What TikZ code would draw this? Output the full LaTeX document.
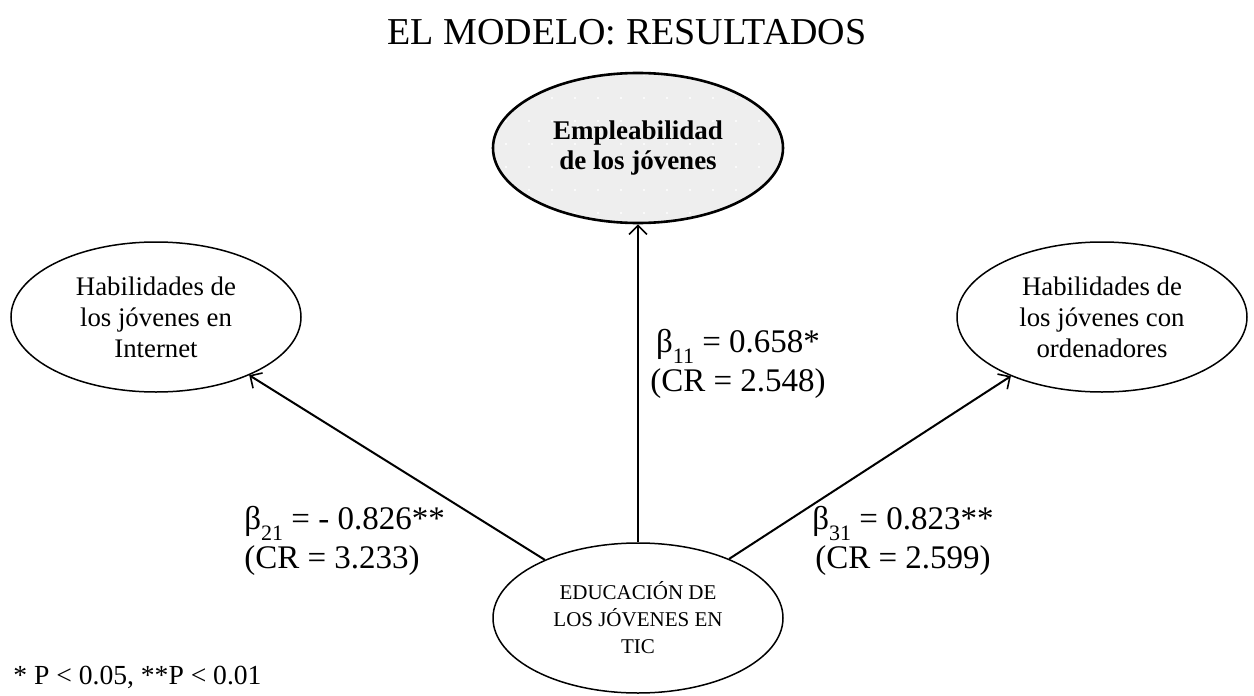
\documentclass[tikz,border=0pt]{standalone}
\usepackage{fontspec}
\setmainfont{Liberation Serif}
\usetikzlibrary{shapes.geometric,arrows.meta,patterns.meta}
\definecolor{topfill}{RGB}{238,238,238}
\newcommand{\bsub}[1]{\raisebox{-0.32em}{\fontsize{11}{11}\selectfont #1}}
\tikzset{
  latent/.style={ellipse, draw=black, line width=0.75pt, minimum width=145pt, minimum height=75pt, inner sep=0pt, align=center, font=\fontsize{13.4}{15.5}\selectfont},
  target/.style={latent, preaction={fill=topfill}, pattern={Dots[distance=11.5pt,radius=0.6pt]}, pattern color=white, line width=1.3pt, font=\bfseries\fontsize{13.5}{15}\selectfont},
  source/.style={latent, font=\fontsize{10.5}{13.5}\selectfont},
  path/.style={line width=1pt, -{Straight Barb[length=4.5pt,width=9pt,line width=0.8pt]}},
  coef/.style={font=\fontsize{16.5}{19.5}\selectfont, inner sep=0pt},
}
\begin{document}
\begin{tikzpicture}[x=0.5pt,y=-0.5pt]
\useasboundingbox (0,0) rectangle (1254,696);
\node[font=\fontsize{19}{22}\selectfont] (title) at (627,32) {EL MODELO: RESULTADOS};
\node[target] (emp) at (638,148) {Empleabilidad\\de los jóvenes};
\node[latent] (inet) at (156,317) {Habilidades de\\los jóvenes en\\Internet};
\node[latent] (ord) at (1102,317) {Habilidades de\\los jóvenes con\\ordenadores};
\node[source] (edu) at (638,618) {EDUCACIÓN DE\\LOS JÓVENES EN\\TIC};
\draw[path] (edu) -- (emp);
\draw[path] (edu) -- (inet);
\draw[path] (edu) -- (ord);
\node[coef, align=center] (b11) at (738,364) {β\bsub{11} = 0.658*\\(CR = 2.548)};
\node[coef, align=left, anchor=west] (b21) at (244,541) {β\bsub{21} = - 0.826**\\(CR = 3.233)};
\node[coef, align=center] (b31) at (903,541) {β\bsub{31} = 0.823**\\(CR = 2.599)};
\node[anchor=base west, inner sep=0pt, font=\fontsize{13.8}{16}\selectfont] (note) at (13,684) {* P < 0.05, **P < 0.01};
\end{tikzpicture}
\end{document}
